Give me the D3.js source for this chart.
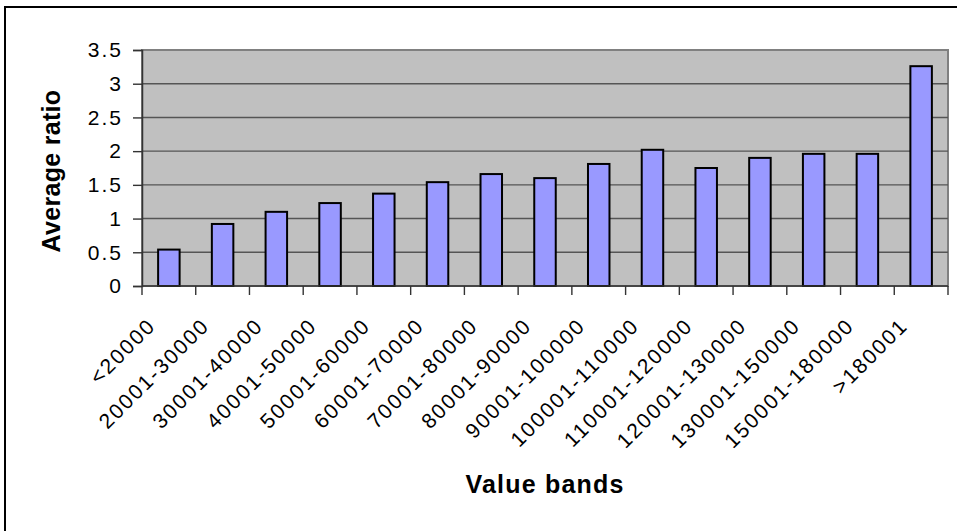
<!DOCTYPE html>
<html>
<head>
<meta charset="utf-8">
<script src="https://cdn.jsdelivr.net/npm/d3@7"></script>
<style>
  html, body { margin: 0; padding: 0; background: #fff; }
  svg { display: block; font-family: "Liberation Sans", Arial, Helvetica, sans-serif; }
</style>
</head>
<body>
<svg id="chart" width="957" height="531"></svg>
<script>
// Value bands and their average ratio
const categories = ["<20000", "20001-30000", "30001-40000", "40001-50000", "50001-60000",
  "60001-70000", "70001-80000", "80001-90000", "90001-100000", "100001-110000",
  "110001-120000", "120001-130000", "130001-150000", "150001-180000", ">180001"];
const averageRatio = [0.54, 0.92, 1.10, 1.23, 1.37, 1.54, 1.66, 1.60, 1.81, 2.02,
  1.75, 1.90, 1.96, 1.96, 3.26];
const yTicks = [0, 0.5, 1, 1.5, 2, 2.5, 3, 3.5];

const svg = d3.select("#chart");
const W = 957, H = 531;
const plot = { left: 142, top: 50, right: 948, bottom: 286 };

// outer chart frame (extends past the right and bottom edges)
svg.append("rect")
  .attr("x", 5).attr("y", 7)
  .attr("width", W + 20).attr("height", H + 20)
  .attr("fill", "#fff").attr("stroke", "#000").attr("stroke-width", 2);

const x = d3.scaleBand().domain(categories)
  .range([plot.left, plot.right]).paddingInner(0).paddingOuter(0);
const y = d3.scaleLinear().domain([0, 3.5]).range([plot.bottom, plot.top]);

// plot area
svg.append("rect")
  .attr("x", plot.left).attr("y", plot.top)
  .attr("width", plot.right - plot.left).attr("height", plot.bottom - plot.top)
  .attr("fill", "#c0c0c0").attr("stroke", "#808080").attr("stroke-width", 2);

// horizontal gridlines
svg.append("g").selectAll("line").data(yTicks.filter(d => d > 0 && d < 3.5)).join("line")
  .attr("x1", plot.left).attr("x2", plot.right)
  .attr("y1", d => y(d)).attr("y2", d => y(d))
  .attr("stroke", "#555").attr("stroke-width", 1.4);

// bars
const barW = x.bandwidth() / 2.5;
svg.append("g").selectAll("rect").data(categories).join("rect")
  .attr("x", d => x(d) + (x.bandwidth() - barW) / 2)
  .attr("y", (d, i) => y(averageRatio[i]))
  .attr("width", barW)
  .attr("height", (d, i) => y(0) - y(averageRatio[i]))
  .attr("fill", "#9999ff").attr("stroke", "#000").attr("stroke-width", 2);

// y axis
const yAxis = svg.append("g").attr("transform", `translate(${plot.left},0)`)
  .call(d3.axisLeft(y).tickValues(yTicks).tickFormat(d3.format("")).tickSize(9).tickPadding(10));
yAxis.select(".domain").attr("stroke", "#333").attr("stroke-width", 1.5);
yAxis.selectAll(".tick line").attr("stroke", "#333").attr("stroke-width", 1.4);
yAxis.selectAll(".tick text")
  .attr("font-size", 21).attr("fill", "#000")
  .attr("font-family", "Liberation Sans, Arial, sans-serif")
  .style("letter-spacing", "2px");

// x axis: ticks on band boundaries
const xAxisG = svg.append("g");
xAxisG.append("line")
  .attr("x1", plot.left).attr("x2", plot.right)
  .attr("y1", plot.bottom).attr("y2", plot.bottom)
  .attr("stroke", "#333").attr("stroke-width", 1.5);
const boundaries = categories.map(d => x(d)).concat([plot.right]);
xAxisG.selectAll("line.tick").data(boundaries).join("line")
  .attr("class", "tick")
  .attr("x1", d => d).attr("x2", d => d)
  .attr("y1", plot.bottom).attr("y2", plot.bottom + 9)
  .attr("stroke", "#333").attr("stroke-width", 1.4);

xAxisG.selectAll("text").data(categories).join("text")
  .attr("transform", d => `translate(${x(d) + x.bandwidth() / 2 - 12},${plot.bottom + 41}) rotate(-45)`)
  .attr("text-anchor", "end")
  .attr("font-size", 21).attr("fill", "#000")
  .style("letter-spacing", "2px")
  .text(d => d);

// axis titles
svg.append("text")
  .attr("transform", `translate(60,171) rotate(-90)`)
  .attr("text-anchor", "middle")
  .attr("font-size", 25).attr("font-weight", "bold")
  .style("letter-spacing", "0.3px")
  .text("Average ratio");

svg.append("text")
  .attr("x", (plot.left + plot.right) / 2).attr("y", 493)
  .attr("text-anchor", "middle")
  .attr("font-size", 25).attr("font-weight", "bold")
  .style("letter-spacing", "1.2px")
  .text("Value bands");
</script>
</body>
</html>
